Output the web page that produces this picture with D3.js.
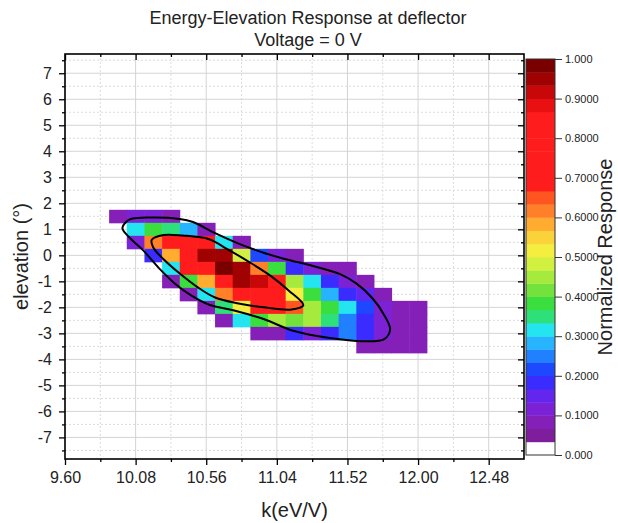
<!DOCTYPE html>
<html>
<head>
<meta charset="utf-8">
<script src="https://cdn.jsdelivr.net/npm/d3@7"></script>
<style>
  body { margin: 0; background: #fff; }
  svg { font-family: "Liberation Sans", Arial, sans-serif; }
</style>
</head>
<body>
<div id="chart"></div>
<script>
// data
const kCenters = [9.96, 10.08, 10.20, 10.32, 10.44, 10.56, 10.68, 10.80, 10.92, 11.04, 11.16, 11.28, 11.40, 11.52, 11.64, 11.76, 11.88, 12.00];
const elevRows = [1.5, 1.0, 0.5, 0, -0.5, -1, -1.5, -2, -2.5, -3, -3.5];
const _ = null;
const response = [
  [0.08, 0.10, 0.10, 0.08, _, _, _, _, _, _, _, _, _, _, _, _, _, _],
  [_, 0.31, 0.37, 0.36, 0.28, 0.09, _, _, _, _, _, _, _, _, _, _, _, _],
  [_, 0.11, 0.60, 0.74, 0.77, 0.73, 0.30, 0.09, _, _, _, _, _, _, _, _, _, _],
  [_, _, 0.19, 0.58, 0.80, 0.94, 0.95, 0.47, 0.20, 0.12, 0.08, _, _, _, _, _, _, _],
  [_, _, _, 0.30, 0.78, 0.86, 0.97, 0.95, 0.60, 0.37, 0.19, 0.13, 0.08, 0.07, _, _, _, _],
  [_, _, _, 0.08, 0.37, 0.59, 0.80, 0.94, 0.92, 0.76, 0.46, 0.31, 0.19, 0.13, 0.08, _, _, _],
  [_, _, _, _, 0.08, 0.30, 0.60, 0.80, 0.82, 0.76, 0.52, 0.37, 0.27, 0.19, 0.14, 0.08, _, _],
  [_, _, _, _, _, 0.08, 0.36, 0.52, 0.78, 0.74, 0.64, 0.46, 0.38, 0.30, 0.20, 0.13, 0.08, 0.07],
  [_, _, _, _, _, _, 0.08, 0.30, 0.38, 0.46, 0.40, 0.44, 0.36, 0.25, 0.19, 0.13, 0.08, 0.07],
  [_, _, _, _, _, _, _, _, 0.08, 0.09, 0.18, 0.13, 0.19, 0.24, 0.18, 0.13, 0.09, 0.07],
  [_, _, _, _, _, _, _, _, _, _, _, _, _, _, 0.08, 0.09, 0.08, 0.07]
];

// contour lines (k, elevation)
const outerContour = [
  [9.99, 1.05], [10.04, 1.38], [10.15, 1.45], [10.38, 1.40], [10.47, 1.28], [10.62, 0.85],
  [10.78, 0.45], [10.95, 0.10], [11.10, -0.15], [11.28, -0.40], [11.47, -0.72], [11.58, -1.08],
  [11.69, -1.65], [11.77, -2.30], [11.81, -2.85], [11.77, -3.22], [11.62, -3.30], [11.40, -3.18],
  [11.15, -2.90], [10.95, -2.45], [10.75, -2.12], [10.58, -1.90], [10.46, -1.55], [10.35, -1.10],
  [10.24, -0.50], [10.13, 0.20], [10.05, 0.62]
];
const innerContour = [
  [10.19, 0.60], [10.27, 0.78], [10.40, 0.76], [10.58, 0.62], [10.70, 0.25], [10.85, -0.25],
  [11.00, -0.80], [11.12, -1.35], [11.22, -1.92], [11.14, -2.08], [10.95, -2.00], [10.78, -1.85],
  [10.62, -1.62], [10.50, -1.22], [10.38, -0.70], [10.27, -0.15], [10.20, 0.30]
];

const xTicks = [9.60, 10.08, 10.56, 11.04, 11.52, 12.00, 12.48];
const xMinor = [9.84, 10.32, 10.80, 11.28, 11.76, 12.24];
const yTicks = [-7, -6, -5, -4, -3, -2, -1, 0, 1, 2, 3, 4, 5, 6, 7];
const yMinor = [-7.5, -6.5, -5.5, -4.5, -3.5, -2.5, -1.5, -0.5, 0.5, 1.5, 2.5, 3.5, 4.5, 5.5, 6.5, 7.5];
const cbTicks = [0, 0.1, 0.2, 0.3, 0.4, 0.5, 0.6, 0.7, 0.8, 0.9, 1.0];
const cbLabels = ["0.000", "0.1000", "0.2000", "0.3000", "0.4000", "0.5000", "0.6000", "0.7000", "0.8000", "0.9000", "1.000"];

// 30 colour levels, 0 -> 1
const levelColors = [
  "#ffffff", "#7e1e9c", "#8420b8", "#7c22d6", "#6226ee", "#3a2cff", "#1e48ff", "#2080ff",
  "#26b4ff", "#24e4f0", "#2ee07a", "#3ade3e", "#74e23c", "#a6ea3e", "#d2f040", "#f4ee40",
  "#fad23a", "#ffac30", "#ff8028", "#ff5520", "#ff1c1c", "#ff1c1c", "#ff1c1c", "#ff1c1c",
  "#ff1c1c", "#ff1c1c", "#e81010", "#c80808", "#a00202", "#7a0000"
];
const nLevels = levelColors.length;
const colorOf = v => levelColors[Math.min(nLevels - 1, Math.floor(v * nLevels))];

const W = 618, H = 523;
const plot = { left: 65, right: 524, top: 54, bottom: 459 };
const cb = { left: 526, right: 555, top: 59, bottom: 455 };

const svg = d3.select("#chart").append("svg")
  .attr("width", W).attr("height", H);

const x = d3.scaleLinear().domain([9.60, 12.72]).range([plot.left, plot.right]);
const y = d3.scaleLinear().domain([-7.83, 7.74]).range([plot.bottom, plot.top]);

// grid
const grid = svg.append("g");
grid.selectAll(".gx").data(xTicks).enter().append("line")
  .attr("x1", d => x(d)).attr("x2", d => x(d))
  .attr("y1", plot.top).attr("y2", plot.bottom)
  .attr("stroke", "#d4d4d4").attr("stroke-width", 1);
grid.selectAll(".gxm").data(xMinor).enter().append("line")
  .attr("x1", d => x(d)).attr("x2", d => x(d))
  .attr("y1", plot.top).attr("y2", plot.bottom)
  .attr("stroke", "#dcdcdc").attr("stroke-width", 1).attr("stroke-dasharray", "2,2");
grid.selectAll(".gy").data(yTicks).enter().append("line")
  .attr("x1", plot.left).attr("x2", plot.right)
  .attr("y1", d => y(d)).attr("y2", d => y(d))
  .attr("stroke", "#d4d4d4").attr("stroke-width", 1);
grid.selectAll(".gym").data(yMinor).enter().append("line")
  .attr("x1", plot.left).attr("x2", plot.right)
  .attr("y1", d => y(d)).attr("y2", d => y(d))
  .attr("stroke", "#dcdcdc").attr("stroke-width", 1).attr("stroke-dasharray", "2,2");

// heatmap cells
const dk = 0.12, de = 0.5;
const cells = [];
response.forEach((row, r) => row.forEach((v, c) => {
  if (v !== null) cells.push({ k: kCenters[c], e: elevRows[r], v: v });
}));
svg.append("g").selectAll("rect").data(cells).enter().append("rect")
  .attr("x", d => x(d.k - dk / 2))
  .attr("y", d => y(d.e + de / 2))
  .attr("width", d => x(d.k + dk / 2) - x(d.k - dk / 2) + 0.5)
  .attr("height", d => y(d.e - de / 2) - y(d.e + de / 2) + 0.5)
  .attr("fill", d => colorOf(d.v));

// contour lines
const line = d3.line()
  .x(d => x(d[0])).y(d => y(d[1]))
  .curve(d3.curveCatmullRomClosed.alpha(0.5));
svg.append("path").attr("d", line(outerContour))
  .attr("fill", "none").attr("stroke", "#000").attr("stroke-width", 2);
svg.append("path").attr("d", line(innerContour))
  .attr("fill", "none").attr("stroke", "#000").attr("stroke-width", 2);

// axes
const fmt2 = d3.format(".2f");
const axB = svg.append("g").attr("transform", `translate(0,${plot.bottom})`)
  .call(d3.axisBottom(x).tickValues(xTicks).tickSize(6).tickPadding(7).tickFormat(fmt2));
svg.append("g").attr("transform", `translate(0,${plot.bottom})`)
  .call(d3.axisBottom(x).tickValues(xMinor).tickSize(3).tickFormat(""));
const axL = svg.append("g").attr("transform", `translate(${plot.left},0)`)
  .call(d3.axisLeft(y).tickValues(yTicks).tickSize(6).tickPadding(7).tickFormat(d => String(d)));
svg.append("g").attr("transform", `translate(${plot.left},0)`)
  .call(d3.axisLeft(y).tickValues(yMinor).tickSize(3).tickFormat(""));
svg.append("g").attr("transform", `translate(0,${plot.top})`)
  .call(d3.axisTop(x).tickValues(xTicks).tickSizeInner(-6).tickSizeOuter(0).tickFormat(""));
svg.append("g").attr("transform", `translate(0,${plot.top})`)
  .call(d3.axisTop(x).tickValues(xMinor).tickSizeInner(-3).tickSizeOuter(0).tickFormat(""));
svg.append("g").attr("transform", `translate(${plot.right},0)`)
  .call(d3.axisRight(y).tickValues(yTicks).tickSizeInner(-6).tickSizeOuter(0).tickFormat(""));
svg.append("g").attr("transform", `translate(${plot.right},0)`)
  .call(d3.axisRight(y).tickValues(yMinor).tickSizeInner(-3).tickSizeOuter(0).tickFormat(""));

svg.selectAll(".domain").remove();
svg.selectAll(".tick line").attr("stroke", "#000").attr("stroke-width", 1.3);
axB.selectAll("text").style("font-size", "16px").attr("fill", "#222");
axL.selectAll("text").style("font-size", "16px").attr("fill", "#222");

// frame
svg.append("rect")
  .attr("x", plot.left).attr("y", plot.top)
  .attr("width", plot.right - plot.left).attr("height", plot.bottom - plot.top)
  .attr("fill", "none").attr("stroke", "#000").attr("stroke-width", 1.6);

// colour bar
const cbScale = d3.scaleLinear().domain([0, 1]).range([cb.bottom, cb.top]);
const levels = d3.range(nLevels);
svg.append("g").selectAll("rect").data(levels).enter().append("rect")
  .attr("x", cb.left).attr("width", cb.right - cb.left)
  .attr("y", i => cbScale((i + 1) / nLevels))
  .attr("height", i => cbScale(i / nLevels) - cbScale((i + 1) / nLevels) + 0.4)
  .attr("fill", i => levelColors[i]);
svg.append("rect")
  .attr("x", cb.left).attr("y", cb.top)
  .attr("width", cb.right - cb.left).attr("height", cb.bottom - cb.top)
  .attr("fill", "none").attr("stroke", "#333").attr("stroke-width", 1);
const cbAxis = svg.append("g").attr("transform", `translate(${cb.right},0)`)
  .call(d3.axisRight(cbScale).tickValues(cbTicks).tickSize(7).tickPadding(3)
    .tickFormat((d, i) => cbLabels[i]));
cbAxis.select(".domain").remove();
cbAxis.selectAll(".tick line").attr("stroke", "#333");
cbAxis.selectAll("text").style("font-size", "11px").attr("fill", "#222");

// titles
svg.append("text").attr("x", 308).attr("y", 24).attr("text-anchor", "middle")
  .style("font-size", "18px").attr("fill", "#222")
  .text("Energy-Elevation Response at deflector");
svg.append("text").attr("x", 308).attr("y", 46).attr("text-anchor", "middle")
  .style("font-size", "18px").attr("fill", "#222")
  .text("Voltage = 0 V");

svg.append("text").attr("x", (plot.left + plot.right) / 2).attr("y", 517)
  .attr("text-anchor", "middle").style("font-size", "20px").attr("fill", "#222")
  .text("k(eV/V)");
svg.append("text")
  .attr("transform", `translate(28,${(plot.top + plot.bottom) / 2}) rotate(-90)`)
  .attr("text-anchor", "middle").style("font-size", "20px").attr("fill", "#222")
  .text("elevation (°)");
svg.append("text")
  .attr("transform", `translate(612,${(cb.top + cb.bottom) / 2}) rotate(-90)`)
  .attr("text-anchor", "middle").style("font-size", "20px").attr("fill", "#222")
  .text("Normalized Response");
</script>
</body>
</html>
